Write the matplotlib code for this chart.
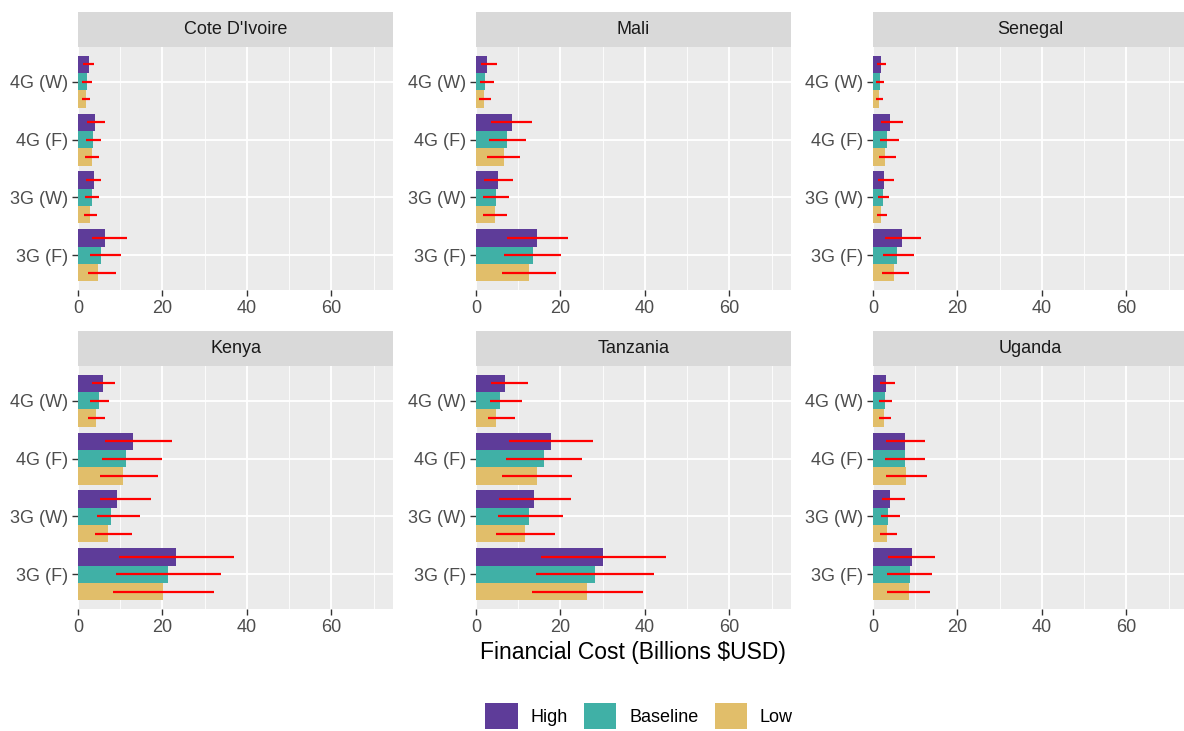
import numpy as np
import matplotlib
matplotlib.use('Agg')
import matplotlib.pyplot as plt
from matplotlib.patches import Rectangle, Patch

plt.rcParams['font.family'] = ['Liberation Sans', 'DejaVu Sans']

countries = ['Cote D\'Ivoire', 'Mali', 'Senegal', 'Kenya', 'Tanzania', 'Uganda']
techs = ['3G (F)', '3G (W)', '4G (F)', '4G (W)']  # bottom to top

# values per country, ordered as techs
high = [[6.3, 3.7, 4.0, 2.5], [14.5, 5.3, 8.5, 2.6], [6.8, 2.7, 4.0, 1.9],
        [23.3, 9.3, 13.0, 6.0], [30.0, 13.8, 17.8, 6.9], [9.2, 4.1, 7.5, 3.1]]
high_lo = [[3.2, 1.8, 2.1, 1.2], [7.4, 2.0, 3.6, 1.2], [2.8, 1.3, 2.0, 0.9],
           [9.8, 5.2, 6.3, 3.4], [15.3, 5.5, 7.9, 3.6], [3.6, 2.1, 3.0, 1.7]]
high_hi = [[11.5, 5.5, 6.5, 3.8], [21.9, 8.8, 13.3, 4.9], [11.3, 4.9, 7.2, 3.0],
           [36.9, 17.3, 22.3, 8.7], [44.9, 22.4, 27.7, 12.3], [14.7, 7.6, 12.4, 5.2]]

base = [[5.5, 3.3, 3.6, 2.2], [13.4, 4.7, 7.4, 2.1], [5.7, 2.3, 3.3, 1.7],
        [21.4, 7.9, 11.3, 5.0], [28.1, 12.6, 16.1, 5.8], [8.7, 3.5, 7.5, 2.8]]
base_lo = [[2.8, 1.7, 1.9, 1.0], [6.7, 1.7, 3.1, 0.9], [2.4, 1.2, 1.7, 0.6],
           [9.0, 4.5, 5.6, 2.8], [14.2, 5.1, 7.0, 3.2], [3.4, 1.9, 2.9, 1.5]]
base_hi = [[10.2, 4.9, 5.5, 3.3], [20.2, 7.9, 11.8, 4.3], [9.8, 3.9, 6.1, 2.5],
           [33.9, 14.7, 19.8, 7.3], [42.1, 20.5, 25.1, 10.8], [13.9, 6.5, 12.3, 4.5]]

low = [[4.7, 2.9, 3.2, 1.8], [12.6, 4.4, 6.6, 2.0], [5.0, 2.0, 2.8, 1.5],
       [20.2, 7.1, 10.7, 4.3], [26.2, 11.5, 14.4, 4.8], [8.5, 3.2, 7.9, 2.6]]
low_lo = [[2.4, 1.4, 1.7, 0.9], [6.2, 1.6, 2.6, 0.8], [2.1, 0.9, 1.4, 0.6],
          [8.4, 4.1, 5.3, 2.4], [13.3, 4.7, 6.2, 2.8], [3.2, 1.7, 3.1, 1.4]]
low_hi = [[8.9, 4.4, 4.9, 2.9], [19.0, 7.4, 10.4, 3.6], [8.6, 3.3, 5.5, 2.4],
          [32.2, 12.8, 18.9, 6.3], [39.5, 18.7, 22.8, 9.2], [13.6, 5.8, 12.8, 4.2]]

scenarios = ['High', 'Baseline', 'Low']
colors = ['#5E3C99', '#40B0A6', '#E1BE6A']
offsets = [0.3, 0.0, -0.3]

fig = plt.figure(figsize=(11.84, 7.31), dpi=100)
W, H = 1184, 731
lefts = [78, 476, 873]
tops = [47, 366]
pw, ph = 315, 243
strip_h = 35

y = np.arange(1, len(techs) + 1)

for i, country in enumerate(countries):
    r, c = divmod(i, 3)
    ax = fig.add_axes([lefts[c] / W, 1 - (tops[r] + ph) / H, pw / W, ph / H])
    ax.set_facecolor('#EBEBEB')

    series = [(high, high_lo, high_hi), (base, base_lo, base_hi), (low, low_lo, low_hi)]
    for k, (vals, lo, hi) in enumerate(series):
        ax.barh(y + offsets[k], vals[i], height=0.3, color=colors[k], zorder=3)
        ax.hlines(y + offsets[k], lo[i], hi[i], color='#FF0000', linewidth=1.6, zorder=4)

    ax.set_xlim(0, 74.6)
    ax.set_ylim(0.4, 4.6)
    ax.set_xticks([0, 20, 40, 60])
    ax.set_xticks([10, 30, 50, 70], minor=True)
    ax.set_yticks(y)
    ax.set_yticklabels(techs)
    ax.grid(which='major', color='white', linewidth=1.3, zorder=0)
    ax.grid(which='minor', axis='x', color='white', linewidth=0.6, zorder=0)
    ax.set_axisbelow(True)
    for s in ax.spines.values():
        s.set_visible(False)
    ax.tick_params(which='major', length=4, width=1, color='#333333',
                   labelsize=13, labelcolor='#4D4D4D', pad=3)
    ax.tick_params(which='minor', length=0)

    # facet strip
    ax.add_patch(Rectangle((0, 1), 1, strip_h / ph, transform=ax.transAxes,
                           facecolor='#D9D9D9', edgecolor='none', clip_on=False))
    ax.text(0.5, 1 + strip_h / ph / 2, country, transform=ax.transAxes,
            ha='center', va='center', fontsize=13, color='#1A1A1A')

fig.text(633 / W, 1 - 653 / H, 'Financial Cost (Billions $USD)',
         ha='center', va='center', fontsize=16.5, color='black')

handles = [Patch(facecolor=col, label=lab) for col, lab in zip(colors, scenarios)]
fig.legend(handles=handles, loc='center', bbox_to_anchor=(639 / W, 1 - 716 / H),
           ncol=3, frameon=False, fontsize=13, handlelength=1.8, handleheight=1.8,
           handletextpad=0.7, columnspacing=0.9, borderpad=0)

plt.savefig('out.png', dpi=100)
plt.close()
